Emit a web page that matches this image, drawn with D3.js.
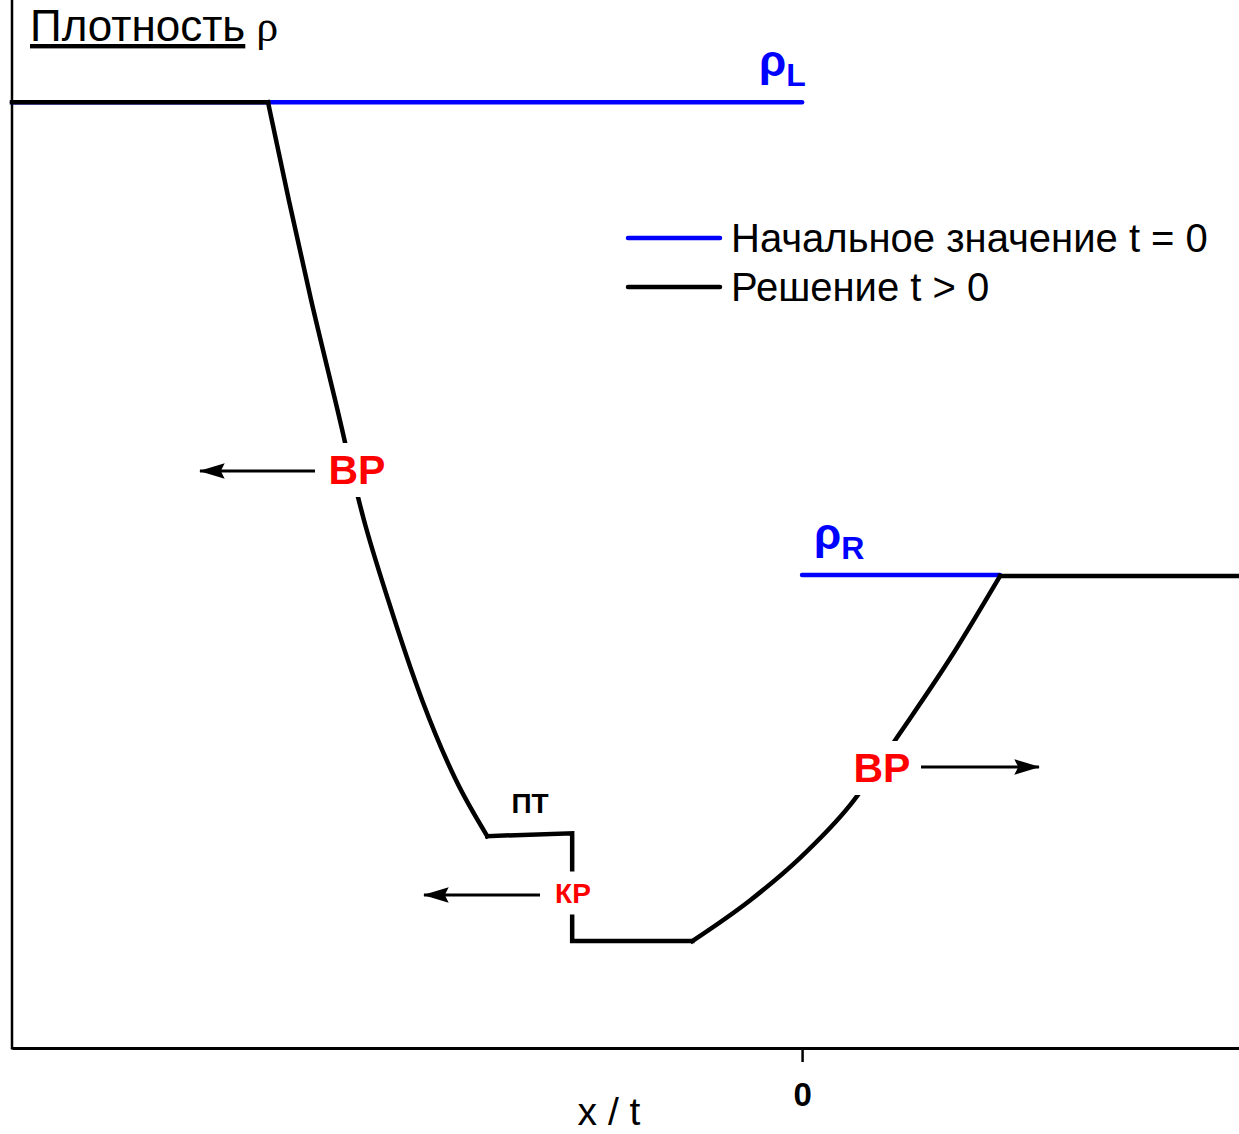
<!DOCTYPE html>
<html>
<head>
<meta charset="utf-8">
<script src="https://cdn.jsdelivr.net/npm/d3@7"></script>
<style>
  html, body { margin: 0; padding: 0; background: #fff; }
  svg { display: block; font-family: "Liberation Sans", Arial, sans-serif; }
</style>
</head>
<body>
<svg id="chart" width="1239" height="1134"></svg>
<script>
// Riemann problem: density profile versus similarity variable x/t
const xDomain = [-2, 1.106];
const yDomain = [0, 1.108];

// initial state at t = 0
const rhoL = 1.0;
const rhoR = 0.5;
const initialLeft = [[-2, rhoL], [0, rhoL]];
const initialRight = [[0, rhoR], [0.501, rhoR]];

// solution for t > 0, piece by piece
const leftStateX = [-2, -1.352];
const leftStateRho = [1.0, 1.0];

const leftFanX = [-1.352, -1.299, -1.243, -1.182, -1.109, -1.048, -0.962, -0.876, -0.797];
const leftFanRho = [1.0, 0.896, 0.791, 0.685, 0.558, 0.474, 0.368, 0.283, 0.224];

const contactX = [-0.797, -0.582, -0.582, -0.278];
const contactRho = [0.224, 0.227, 0.113, 0.113];

const rightFanX = [-0.278, -0.132, -0.005, 0.122, 0.248, 0.375, 0.501];
const rightFanRho = [0.113, 0.156, 0.201, 0.257, 0.333, 0.412, 0.499];

const rightStateX = [0.501, 1.106];
const rightStateRho = [0.499, 0.499];

const xTicks = [0];
const xTickLabels = ["0"];

const legendItems = ["Начальное значение t = 0", "Решение t > 0"];
const legendColors = ["#0000ff", "#000000"];

const svg = d3.select("#chart");
const x = d3.scaleLinear().domain(xDomain).range([12, 1239]);
const y = d3.scaleLinear().domain(yDomain).range([1048, 0]);

const zip = (xs, ys) => xs.map((v, i) => [v, ys[i]]);
const straight = d3.line().x(d => x(d[0])).y(d => y(d[1]));
const smooth = d3.line().x(d => x(d[0])).y(d => y(d[1])).curve(d3.curveMonotoneX);

// arrow marker
svg.append("defs").append("marker")
  .attr("id", "arrow").attr("viewBox", "0 0 20 12")
  .attr("refX", 19).attr("refY", 6)
  .attr("markerWidth", 26).attr("markerHeight", 15.6)
  .attr("markerUnits", "userSpaceOnUse")
  .attr("orient", "auto")
  .append("path").attr("d", "M0,0 L20,6 L0,12 L3,6 Z").attr("fill", "#000");

// axes
const xAxis = d3.axisBottom(x).tickValues(xTicks).tickFormat((d, i) => xTickLabels[i]).tickSize(14).tickSizeOuter(0);
const gx = svg.append("g").attr("transform", `translate(0,${y(0)})`).call(xAxis);
gx.select(".domain").attr("stroke", "#000").attr("stroke-width", 3);
gx.selectAll(".tick line").attr("stroke", "#000").attr("stroke-width", 2.5);
gx.selectAll(".tick text")
  .attr("font-family", "Liberation Sans, Arial, sans-serif")
  .attr("font-size", 33).attr("font-weight", "bold").attr("fill", "#000")
  .attr("dy", "1.25em");

svg.append("line")
  .attr("x1", x(xDomain[0])).attr("x2", x(xDomain[0]))
  .attr("y1", y(yDomain[1])).attr("y2", y(0) + 1.5)
  .attr("stroke", "#000").attr("stroke-width", 2.5);

// axis titles
svg.append("text").attr("x", 609).attr("y", 1125).attr("text-anchor", "middle")
  .attr("font-size", 39).attr("fill", "#000").text("x / t");

const title = svg.append("text").attr("x", 30).attr("y", 41).attr("font-size", 44).attr("fill", "#000");
title.append("tspan").attr("text-decoration", "underline").text("Плотность");
title.append("tspan").attr("font-family", "Liberation Serif, serif").attr("font-size", 44).text(" ρ");

// initial condition
[initialLeft, initialRight].forEach(seg => {
  svg.append("path").datum(seg).attr("d", straight)
    .attr("fill", "none").attr("stroke", "#0000ff").attr("stroke-width", 4.5)
    .attr("stroke-linecap", "round");
});

// solution profile
const solutionPieces = [
  { pts: zip(leftStateX, leftStateRho), gen: straight },
  { pts: zip(leftFanX, leftFanRho), gen: smooth },
  { pts: zip(contactX, contactRho), gen: straight },
  { pts: zip(rightFanX, rightFanRho), gen: smooth },
  { pts: zip(rightStateX, rightStateRho), gen: straight }
];
solutionPieces.forEach(p => {
  svg.append("path").datum(p.pts).attr("d", p.gen)
    .attr("fill", "none").attr("stroke", "#000").attr("stroke-width", 4.5)
    .attr("stroke-linejoin", "miter").attr("stroke-linecap", "square");
});

// state labels
function rhoLabel(px, py, sub) {
  const t = svg.append("text").attr("x", px).attr("y", py)
    .attr("fill", "#0000ff").attr("font-weight", "bold").attr("font-size", 44);
  t.append("tspan").text("ρ");
  t.append("tspan").attr("font-size", 32).attr("dy", 10).text(sub);
}
rhoLabel(759, 76, "L");
rhoLabel(814, 549, "R");

// wave labels with white backing that breaks the curve
function waveLabel(cx, cy, txt, size, color, padX, padY) {
  const g = svg.append("g");
  const t = g.append("text").attr("x", cx).attr("y", cy).attr("text-anchor", "middle")
    .attr("dominant-baseline", "central")
    .attr("font-weight", "bold").attr("font-size", size).attr("fill", color).text(txt);
  const b = t.node().getBBox();
  g.insert("rect", "text").attr("x", b.x - padX).attr("y", b.y - padY)
    .attr("width", b.width + 2 * padX).attr("height", b.height + 2 * padY).attr("fill", "#fff");
}
waveLabel(357, 470, "ВР", 41, "#ff0000", 5, 4);
waveLabel(882, 768, "ВР", 41, "#ff0000", 5, 4);
waveLabel(573, 893, "КР", 28, "#ff0000", 4, 6);
waveLabel(530, 803, "ПТ", 28, "#000", 0, 0);

// propagation arrows
function arrow(x1, x2, yy) {
  svg.append("line").attr("x1", x1).attr("x2", x2).attr("y1", yy).attr("y2", yy)
    .attr("stroke", "#000").attr("stroke-width", 3).attr("marker-end", "url(#arrow)");
}
arrow(315, 200, 471);
arrow(540, 424, 895);
arrow(921, 1039, 767);

// legend
const lg = svg.append("g").attr("transform", "translate(628,238)");
legendItems.forEach((label, i) => {
  const row = lg.append("g").attr("transform", `translate(0,${i * 49})`);
  row.append("line").attr("x1", 0).attr("x2", 92).attr("stroke", legendColors[i])
    .attr("stroke-width", 4.5).attr("stroke-linecap", "round");
  row.append("text").attr("x", 103).attr("y", 0).attr("dominant-baseline", "central")
    .attr("font-size", 40).attr("fill", "#000").text(label);
});
</script>
</body>
</html>
